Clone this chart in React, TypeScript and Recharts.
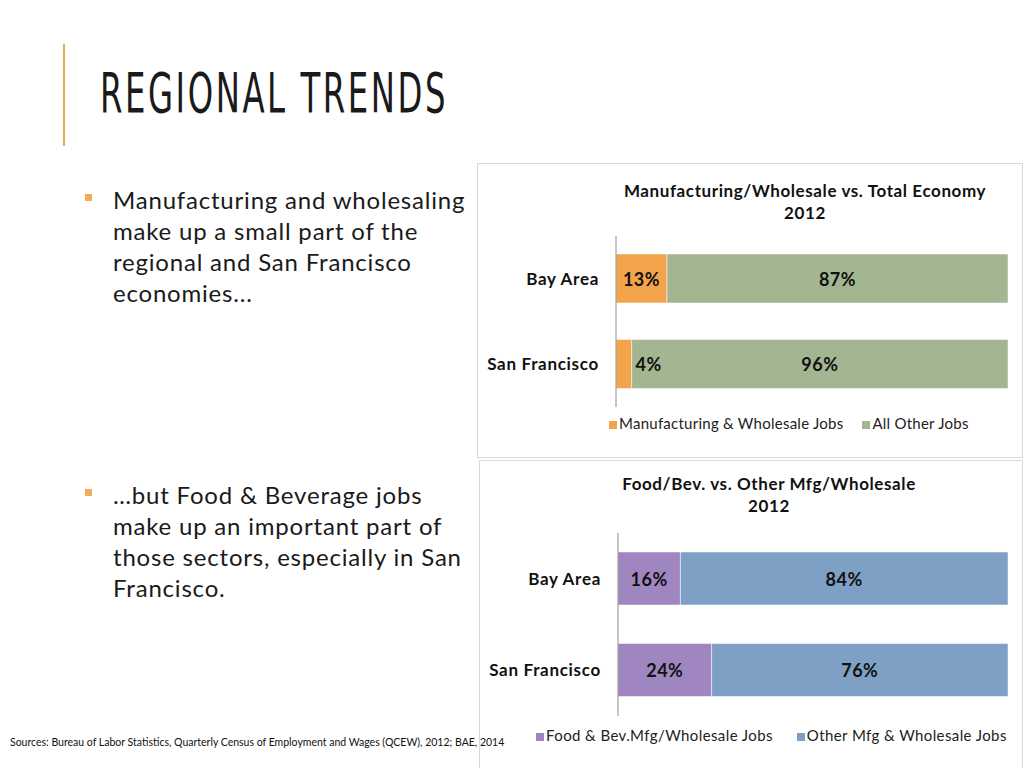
import React from "react";
import { Bar, BarChart, LabelList, Legend, XAxis, YAxis } from "recharts";

const regions = ["Bay Area", "San Francisco"];
const mfgShare = [13, 4];
const otherJobsShare = [87, 96];
const foodBevShare = [16, 24];
const otherMfgShare = [84, 76];

const FONT = "Lato, 'Noto Sans', sans-serif";

const economyData = regions.map((name, i) => ({ name, a: mfgShare[i], b: otherJobsShare[i] }));
const foodData = regions.map((name, i) => ({ name, a: foodBevShare[i], b: otherMfgShare[i] }));

const PctLabel = (props: any) => {
  const { x, y, width, height, value } = props;
  // the tiny SF slice had its label nudged to the right in the original
  const cx = width < 20 ? x + width + 17 : x + width / 2;
  return (
    <text x={cx} y={y + height / 2} textAnchor="middle" dominantBaseline="central"
      fontFamily={FONT} fontWeight={700} fontSize={18} letterSpacing={0.5} fill="#111">
      {value}%
    </text>
  );
};

interface StackProps {
  data: { name: string; a: number; b: number }[];
  width: number;
  height: number;
  top: number;
  bottom: number;
  barSize: number;
  colors: [string, string];
  names: [string, string];
  legendLeft: number;
  legendPad: number;
  legendGap: number;
  legendSpacing: number;
}

const StackChart: React.FC<StackProps> = (p) => {
  const legend = () => (
    <div style={{ height: 30, paddingTop: p.legendPad, boxSizing: "border-box", paddingLeft: p.legendLeft,
      fontFamily: FONT, fontSize: 15, letterSpacing: p.legendSpacing, color: "#222", lineHeight: "16px", whiteSpace: "nowrap", textAlign: "left" }}>
      {p.names.map((n, i) => (
        <span key={n} style={{ marginRight: i === 0 ? p.legendGap : 0 }}>
          <span style={{ display: "inline-block", width: 8, height: 8, background: p.colors[i], marginRight: 2 }} />
          {n}
        </span>
      ))}
    </div>
  );
  return (
    <BarChart layout="vertical" width={p.width} height={p.height} data={p.data}
      margin={{ top: p.top, right: 15, bottom: p.bottom, left: 0 }} barSize={p.barSize}>
      <XAxis type="number" domain={[0, 100]} hide />
      <YAxis type="category" dataKey="name" width={139} axisLine={{ stroke: "#8c8c8c" }} tickLine={false}
        tickMargin={11} tick={{ fill: "#111", fontFamily: FONT, fontWeight: 700, fontSize: 17, letterSpacing: 0.7 }} />
      <Legend verticalAlign="bottom" content={legend} wrapperStyle={{ left: 0, width: p.width }} />
      <Bar dataKey="a" stackId="s" fill={p.colors[0]} stroke="#fff" strokeWidth={0.5} isAnimationActive={false}>
        <LabelList dataKey="a" content={PctLabel} />
      </Bar>
      <Bar dataKey="b" stackId="s" fill={p.colors[1]} stroke="#fff" strokeWidth={0.5} isAnimationActive={false}>
        <LabelList dataKey="b" content={PctLabel} />
      </Bar>
    </BarChart>
  );
};

const titleStyle: React.CSSProperties = {
  position: "absolute", fontFamily: FONT, fontWeight: 700, fontSize: 17, letterSpacing: 0.6, lineHeight: "22px",
  textAlign: "center", color: "#111", whiteSpace: "nowrap",
};

const bulletText: React.CSSProperties = {
  position: "absolute", left: 113, fontFamily: FONT, fontSize: 24, letterSpacing: 0.8, lineHeight: "31px",
  color: "#1a1a1a", whiteSpace: "nowrap",
};

const Bullet = ({ top }: { top: number }) => (
  <div style={{ position: "absolute", left: 85, top, width: 7, height: 7, background: "#F0AC5A" }} />
);

export default function App() {
  return (
    <div style={{ position: "absolute", left: 0, top: 0, width: 1024, height: 768, background: "#fff", overflow: "hidden" }}>
      <div style={{ position: "absolute", left: 63, top: 44, width: 2, height: 102, background: "#E9A74F" }} />
      <svg style={{ position: "absolute", left: 0, top: 0 }} width={1024} height={160}>
        <text x={100} y={112} textLength={348} lengthAdjust="spacingAndGlyphs" letterSpacing={4}
          fontFamily="'Liberation Sans Narrow', 'DejaVu Sans Condensed', sans-serif" fontSize={56} fill="#1a1a1a">
          REGIONAL TRENDS
        </text>
      </svg>

      <Bullet top={194} />
      <div style={{ ...bulletText, top: 184 }}>
        Manufacturing and wholesaling<br />make up a small part of the<br />regional and San Francisco<br />economies...
      </div>
      <Bullet top={489} />
      <div style={{ ...bulletText, top: 479 }}>
        …but Food &amp; Beverage jobs<br />make up an important part of<br />those sectors, especially in San<br />Francisco.
      </div>

      <div style={{ position: "absolute", left: 477, top: 163, width: 546, height: 295, border: "1px solid #d9d9d9", boxSizing: "border-box", background: "#fff" }}>
        <div style={{ ...titleStyle, left: 77, width: 500, top: 16 }}>
          Manufacturing/Wholesale vs. Total Economy<br />2012
        </div>
        <div style={{ position: "absolute", left: -1, top: -1 }}>
          <StackChart data={economyData} width={546} height={295} top={73} bottom={21} barSize={49}
            colors={["#F3A44B", "#A4B592"]} names={["Manufacturing & Wholesale Jobs", "All Other Jobs"]}
            legendLeft={132} legendPad={8} legendGap={19} legendSpacing={0.25} />
        </div>
      </div>

      <div style={{ position: "absolute", left: 479, top: 460, width: 544, height: 312, border: "1px solid #d9d9d9", boxSizing: "border-box", background: "#fff" }}>
        <div style={{ ...titleStyle, left: 89, width: 400, top: 12 }}>
          Food/Bev. vs. Other Mfg/Wholesale<br />2012
        </div>
        <div style={{ position: "absolute", left: -1, top: -1 }}>
          <StackChart data={foodData} width={544} height={308} top={73} bottom={22} barSize={53}
            colors={["#9F86C1", "#7FA0C5"]} names={["Food & Bev.Mfg/Wholesale Jobs", "Other Mfg & Wholesale Jobs"]}
            legendLeft={57} legendGap={24} legendPad={11} legendSpacing={0.4} />
        </div>
      </div>

      <div style={{ position: "absolute", left: 10, top: 736, fontFamily: FONT, fontSize: 10.5, color: "#111", whiteSpace: "nowrap" }}>
        Sources: Bureau of Labor Statistics, Quarterly Census of Employment and Wages (QCEW), 2012; BAE, 2014
      </div>
    </div>
  );
}
